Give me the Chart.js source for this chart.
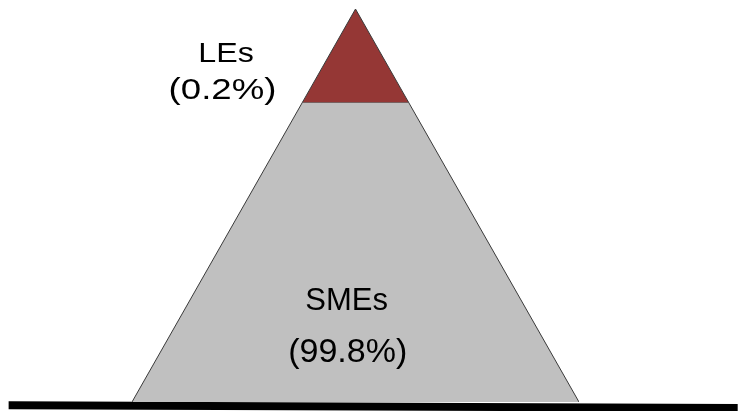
<!DOCTYPE html>
<html>
<head>
<meta charset="utf-8">
<script src="https://cdn.jsdelivr.net/npm/chart.js@4.4.0/dist/chart.umd.min.js"></script>
<style>
  html, body { margin: 0; padding: 0; background: #ffffff; }
  #c { display: block; }
</style>
</head>
<body>
<canvas id="c" width="738" height="411"></canvas>
<script>
// ---- data ----
const categories = ["LEs", "SMEs"];          // top layer, bottom layer
const shares = [0.2, 99.8];                   // % of enterprises
// schematic pyramid: relative height (0 = base, 1 = apex) where the top layer begins
const layerBreaks = [0.763];

// ---- geometry derived from the data (pyramid of half-width 1, height 1) ----
const s = layerBreaks[0];
const halfAt = h => 1 - h;
const smePoly = [
  { x: -1, y: 0 },
  { x: -halfAt(s), y: s },
  { x: halfAt(s), y: s },
  { x: 1, y: 0 }
];
const lePoly = [
  { x: -halfAt(s), y: s },
  { x: 0, y: 1 },
  { x: halfAt(s), y: s }
];
const ground = [
  { x: -1.552, y: -0.008 },
  { x: 1.71, y: -0.015 }
];

const labelPlugin = {
  id: 'pyramidLabels',
  afterDatasetsDraw(chart, args, opts) {
    const ctx = chart.ctx;
    const xs = chart.scales.x, ys = chart.scales.y;
    opts.items.forEach(it => {
      const px = xs.getPixelForValue(it.x);
      const py = ys.getPixelForValue(it.y);
      ctx.save();
      ctx.fillStyle = '#000000';
      ctx.textAlign = 'center';
      ctx.textBaseline = 'alphabetic';
      ctx.font = it.size + 'px "Liberation Sans", Arial, sans-serif';
      ctx.translate(px, py);
      ctx.scale(it.sx || 1, 1);
      ctx.fillText(it.text, 0, 0);
      ctx.restore();
    });
  }
};

const fmt = v => '(' + v + '%)';

new Chart(document.getElementById('c'), {
  type: 'line',
  data: {
    datasets: [
      {
        label: categories[0],
        data: lePoly,
        borderColor: '#3a3a3a',
        borderWidth: 1,
        backgroundColor: '#953735',
        fill: { value: s },
        pointRadius: 0,
        tension: 0
      },
      {
        label: categories[1],
        data: smePoly,
        borderColor: '#3a3a3a',
        borderWidth: 1,
        backgroundColor: '#c0c0c0',
        fill: 'origin',
        pointRadius: 0,
        tension: 0
      },
      {
        label: 'ground',
        data: ground,
        borderColor: '#000000',
        borderWidth: 8,
        fill: false,
        pointRadius: 0,
        clip: false,
        tension: 0
      }
    ]
  },
  options: {
    responsive: false,
    animation: false,
    devicePixelRatio: 1,
    layout: { padding: { left: 132, right: 159, top: 9, bottom: 9 } },
    scales: {
      x: { type: 'linear', min: -1, max: 1, display: false },
      y: { type: 'linear', min: 0, max: 1, display: false }
    },
    plugins: {
      legend: { display: false },
      tooltip: { enabled: false },
      pyramidLabels: {
        items: [
          { text: categories[0], x: -0.579, y: 0.866, size: 28, sx: 1.15 },
          { text: fmt(shares[0]), x: -0.595, y: 0.771, size: 30, sx: 1.22 },
          { text: categories[1], x: -0.04, y: 0.234, size: 31 },
          { text: fmt(shares[1]), x: -0.035, y: 0.102, size: 34 }
        ]
      }
    }
  },
  plugins: [labelPlugin]
});
</script>
</body>
</html>
